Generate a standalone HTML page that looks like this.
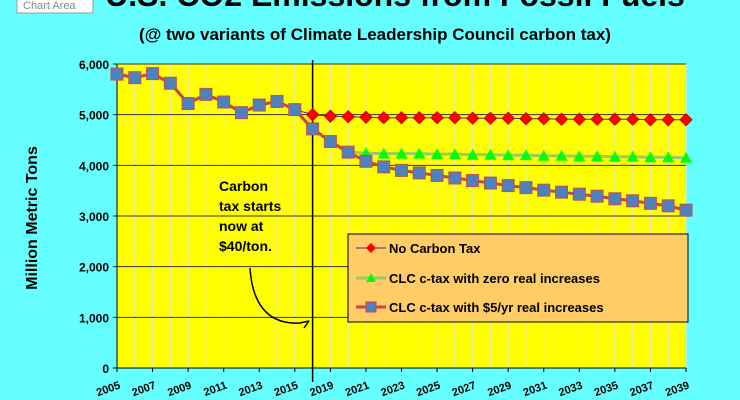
<!DOCTYPE html>
<html><head><meta charset="utf-8"><style>
body{margin:0;width:740px;height:400px;overflow:hidden;background:#66ffff;font-family:"Liberation Sans",sans-serif}
svg{display:block}
</style></head><body>
<svg width="740" height="400">
<text x="395" y="6" text-anchor="middle" font-size="32" font-weight="bold">U.S. CO2 Emissions from Fossil Fuels</text>
<rect x="17" y="-4" width="76" height="17" fill="#fff" stroke="#999"/>
<text x="23" y="9" font-size="11" fill="#888">Chart Area</text>
<text x="375" y="40" text-anchor="middle" font-size="17" font-weight="bold">(@ two variants of Climate Leadership Council carbon tax)</text>
<text transform="translate(37,218) rotate(-90)" text-anchor="middle" font-size="16" font-weight="bold">Million Metric Tons</text>
<g id="plot"></g>
<g>
<text font-size="14" font-weight="bold" x="219" y="191">Carbon</text>
<text font-size="14" font-weight="bold" x="219" y="211">tax starts</text>
<text font-size="14" font-weight="bold" x="219" y="231">now at</text>
<text font-size="14" font-weight="bold" x="219" y="251">$40/ton.</text>
<path d="M250,268 C252,300 265,325 300,323 L309,321 M309,321 L304,328" fill="none" stroke="#000" stroke-width="1.5"/>
</g>
<g>
<rect x="348" y="234" width="340" height="88" fill="#ffcc66" stroke="#000"/>
<line x1="356" y1="248" x2="386" y2="248" stroke="#333399" stroke-width="1"/>
<path d="M371,243 L376,248 L371,253 L366,248Z" fill="red"/>
<text x="389" y="253" font-size="13" font-weight="bold">No Carbon  Tax</text>
<line x1="356" y1="278" x2="386" y2="278" stroke="#99cc66" stroke-width="3"/>
<path d="M371,273 L376,282 L366,282Z" fill="#00ff00"/>
<text x="389" y="283" font-size="13" font-weight="bold">CLC c-tax with zero real increases</text>
<line x1="356" y1="307" x2="386" y2="307" stroke="#cc4444" stroke-width="3"/>
<rect x="366" y="302" width="10" height="10" fill="#4f81bd" stroke="#cc4444"/>
<text x="389" y="312" font-size="13" font-weight="bold">CLC c-tax with $5/yr  real increases</text>
</g>
</svg>
<script>
const years=[2005,2006,2007,2008,2009,2010,2011,2012,2013,2014,2015,2018,2019,2020,2021,2022,2023,2024,2025,2026,2027,2028,2029,2030,2031,2032,2033,2034,2035,2036,2037,2038,2039];
const hist=[5800,5730,5810,5620,5220,5400,5250,5040,5190,5260,5100];
const noTax=[5000,4970,4960,4950,4940,4940,4940,4940,4940,4930,4930,4930,4920,4920,4910,4910,4910,4910,4910,4900,4900,4900];
const zeroInc=[4720,4470,4260,4240,4230,4230,4230,4220,4220,4210,4210,4200,4200,4190,4190,4180,4180,4170,4170,4160,4160,4150];
const fiveInc=[4720,4470,4260,4080,3970,3900,3850,3800,3750,3700,3650,3600,3560,3510,3470,3430,3390,3340,3300,3250,3200,3115];
const yTicks=[0,1000,2000,3000,4000,5000,6000];
const xLabels=["2005","2007","2009","2011","2013","2015","2019","2021","2023","2025","2027","2029","2031","2033","2035","2037","2039"];
const X0=117,X1=686,Y0=368,Y1=64;
const xs=i=>X0+(X1-X0)*i/(years.length-1);
const ys=v=>Y0-(Y0-Y1)*v/6000;
const NS="http://www.w3.org/2000/svg";
const g=document.getElementById('plot');
function mk(t,a,p){const e=document.createElementNS(NS,t);for(const k in a)e.setAttribute(k,a[k]);(p||g).appendChild(e);return e;}
const bg=mk('rect',{x:X0,y:Y1,width:X1-X0,height:Y0-Y1,fill:'#ffff00'});


years.forEach((y,i)=>{const l=mk('line',{x1:xs(i),x2:xs(i),y1:Y1,y2:Y0,stroke:'#e8e8c8','stroke-width':1});

});
yTicks.forEach(v=>{const l=mk('line',{x1:X0-4,x2:X1,y1:ys(v),y2:ys(v),stroke:v?'#333':'#000','stroke-width':1});


const t=mk('text',{x:X0-8,y:ys(v)+5,'text-anchor':'end','font-size':12,'font-weight':'bold'});t.textContent=v.toLocaleString('en-US');

});
mk('line',{x1:X0,x2:X0,y1:Y1,y2:Y0,stroke:'#000'});
xLabels.forEach((s,k)=>{const i=k*2;const x=xs(i);const t=mk('text',{transform:`translate(${x+4},${Y0+20}) rotate(-20)`,'text-anchor':'end','font-size':11,'font-weight':'bold'});t.textContent=s;


mk('line',{x1:x,x2:x,y1:Y0,y2:Y0+4,stroke:'#000'});});
const vl=mk('line',{x1:xs(11),x2:xs(11),y1:Y1-4,y2:Y0+14,stroke:'#000','stroke-width':1.5});


function series(vals,color,w,marker,name){
  const full=hist.concat(vals);
  const gg=mk('g',{});
  
  
  mk('polyline',{points:full.map((v,i)=>xs(i)+','+ys(v)).join(' '),fill:'none',stroke:color,'stroke-width':w},gg);
  full.forEach((v,i)=>{if(i<11&&name!=='series-5-increase')return;const x=xs(i),y=ys(v);let m;
   if(marker==='d')m=mk('path',{d:`M${x},${y-6}L${x+6},${y}L${x},${y+6}L${x-6},${y}Z`,fill:'red',stroke:'#c00'},gg);
   else if(marker==='t')m=mk('path',{d:`M${x},${y-6}L${x+6},${y+5}L${x-6},${y+5}Z`,fill:'#00ff00'},gg);
   else m=mk('rect',{x:x-6,y:y-6,width:12,height:12,fill:'#4f81bd',stroke:'#c0504d'},gg);
   
   });
}
series(noTax,'#333399',1,'d','series-no-tax');
series(zeroInc,'#99cc66',3,'t','series-zero-increase');
series(fiveInc,'#cc4444',3,'s','series-5-increase');
</script>
</body></html>
